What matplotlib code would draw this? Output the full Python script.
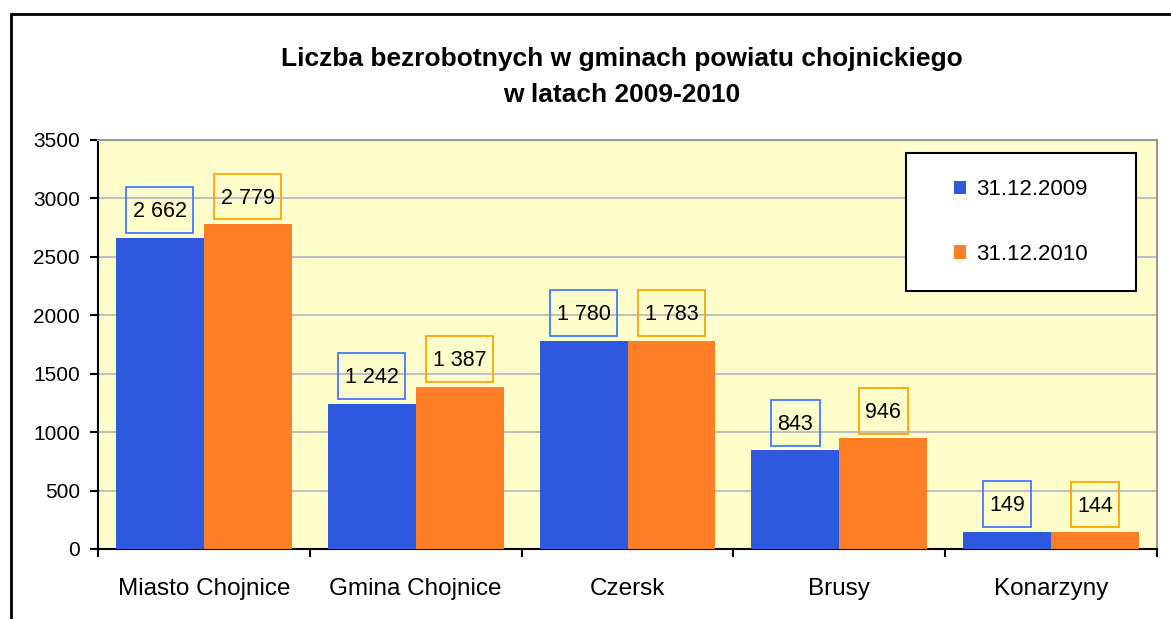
import matplotlib.pyplot as plt
from matplotlib.patches import Rectangle
from matplotlib.path import Path
import numpy as np

plt.rcParams['font.family'] = ['Liberation Sans', 'DejaVu Sans']

gminy = ['Miasto Chojnice', 'Gmina Chojnice', 'Czersk', 'Brusy', 'Konarzyny']
rok_2009 = [2662, 1242, 1780, 843, 149]
rok_2010 = [2779, 1387, 1783, 946, 144]
serie = ['31.12.2009', '31.12.2010']

blue = '#2E58DE'
orange = '#FF7F27'

fig = plt.figure(figsize=(11.71, 6.19), dpi=100)
# black outer frame (clipped at right/bottom like the original)
fig.patches.append(Rectangle((11/1171, -0.05), 1.1, 1 - 14/619 + 0.05, transform=fig.transFigure,
                             fill=False, edgecolor='black', linewidth=2))

ax = fig.add_axes([98/1171, 1 - 549/619, 1059/1171, 409/619])
ax.set_facecolor('#FFFFCC')

x = np.arange(len(gminy))
w = 0.415
ax.bar(x - w/2, rok_2009, w, color=blue, label=serie[0], zorder=3)
ax.bar(x + w/2, rok_2010, w, color=orange, label=serie[1], zorder=3)

def fmt(v):
    return '{:,}'.format(v).replace(',', ' ')

# label box: narrow on the sides, tall above/below
def label_box(x0, y0, width, height, mutation_size):
    px = 0.3 * mutation_size
    x0, y0 = x0 - px, y0 - 0.5 * mutation_size
    x1, y1 = x0 + width + 2*px, y0 + height + 1.15 * mutation_size
    return Path([(x0, y0), (x1, y0), (x1, y1), (x0, y1), (x0, y0)], closed=True)

for xs, vals, col in [(x - w/2, rok_2009, '#4477FF'), (x + w/2, rok_2010, '#FFA500')]:
    for xi, v in zip(xs, vals):
        ax.annotate(fmt(v), (xi, v), xytext=(0, 18.8), textcoords='offset points',
                    ha='center', va='center', fontsize=15.5, zorder=5,
                    bbox=dict(boxstyle=label_box, facecolor='none', edgecolor=col, linewidth=1.3))

ax.set_ylim(0, 3500)
ax.set_xlim(-0.5, len(gminy) - 0.5)
ax.set_yticks(np.arange(0, 3501, 500))
ax.yaxis.grid(True, color='#C0C0C0', linewidth=1.5, zorder=0)
ax.set_axisbelow(True)

ax.set_xticks(x)
ax.set_xticklabels(gminy, fontsize=17.5)
ax.tick_params(axis='x', which='major', length=0, pad=21)
ax.set_xticks(np.arange(-0.5, len(gminy)), minor=True)
ax.tick_params(axis='x', which='minor', length=6, width=1.5, direction='out')
ax.tick_params(axis='y', labelsize=15, length=6, width=1.5, direction='out', pad=7)

for s in ['left', 'bottom']:
    ax.spines[s].set_color('black')
    ax.spines[s].set_linewidth(1.5)
for s in ['top', 'right']:
    ax.spines[s].set_color('#999999')
    ax.spines[s].set_linewidth(1.5)

# legend frame + legend
ax.add_patch(Rectangle((0.763, 0.631), 0.217, 0.337, transform=ax.transAxes,
                       facecolor='white', edgecolor='black', linewidth=1.5, zorder=6))
leg = ax.legend(loc='center', bbox_to_anchor=(0.763, 0.631, 0.217, 0.337), frameon=False,
                fontsize=16, handlelength=0.55, handleheight=0.55, handletextpad=0.45,
                labelspacing=1.95)
leg.set_zorder(7)

fig.text(0.531, 1 - 77/619, 'Liczba bezrobotnych w gminach powiatu chojnickiego\nw latach 2009-2010',
         ha='center', va='center', fontsize=19, fontweight='bold', linespacing=1.6)

plt.savefig('out.png', dpi=100)
